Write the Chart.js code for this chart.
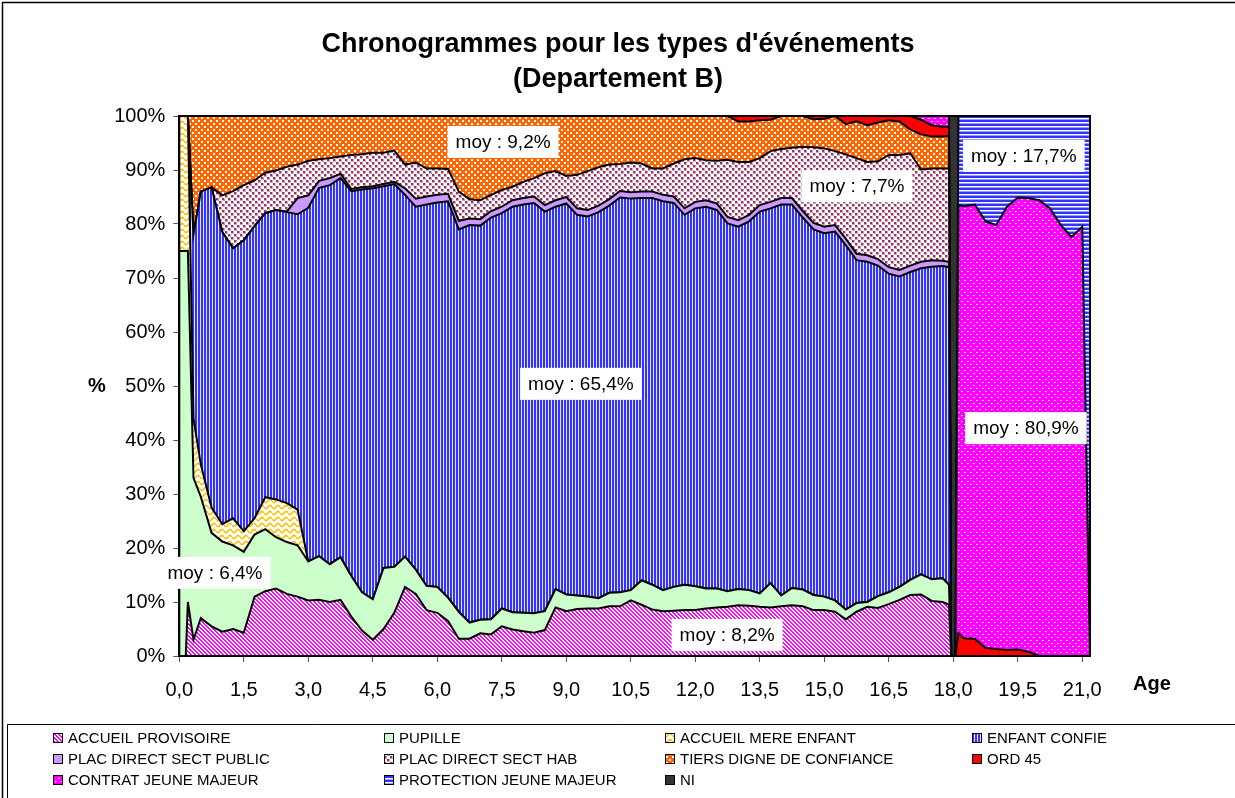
<!DOCTYPE html>
<html lang="fr">
<head>
<meta charset="UTF-8">
<title>Chronogrammes pour les types d'événements</title>
<script src="https://cdn.jsdelivr.net/npm/chart.js"></script>
<style>
  body { margin: 0; background: #fff; }
  #wrap { width: 1235px; height: 798px; }
</style>
</head>
<body>
<div id="wrap"><canvas id="chrono" width="1235" height="798"></canvas></div>
<script>
// age in years (x axis)
const ages = [
  0, 0.15, 0.2, 0.33, 0.5, 0.75,
  1, 1.25, 1.5, 1.75, 2, 2.25, 2.5, 2.75, 3, 3.25, 3.5, 3.75,
  4, 4.25, 4.5, 4.75, 5, 5.25, 5.5, 5.75, 6, 6.25, 6.5, 6.75,
  7, 7.25, 7.5, 7.75, 8, 8.25, 8.5, 8.75, 9, 9.25, 9.5, 9.75,
  10, 10.25, 10.5, 10.75, 11, 11.25, 11.5, 11.75, 12, 12.25, 12.5, 12.75,
  13, 13.25, 13.5, 13.75, 14, 14.25, 14.5, 14.75, 15, 15.25, 15.5, 15.75,
  16, 16.25, 16.5, 16.75, 17, 17.25, 17.5, 17.75, 17.9, 17.95, 18.05, 18.12,
  18.25, 18.5, 18.75, 19, 19.25, 19.5, 19.75, 20, 20.25, 20.5, 20.75, 21, 21.18
];

// share of each event type (%) at each age, bottom to top
const accueilProvisoire = [
  0, 0, 10, 3, 7, 5.5,
  4.5, 5, 4.3, 11, 12, 12.5, 11.5, 11, 10.3, 10.4, 10, 10.4,
  7.3, 4.7, 3.0, 5, 8, 12.8, 11.5, 8.5, 8.0, 6.5, 3.2, 3.2,
  4.2, 4.0, 5.5, 4.9, 4.6, 4.3, 4.8, 9, 8.3, 8.7, 8.8, 8.8,
  9.2, 9.2, 10.3, 9.5, 8.6, 8.3, 8.4, 8.5, 8.5, 8.8, 9.0, 9.1,
  9.4, 9.3, 9.1, 9.0, 9.2, 9.4, 9.2, 8.5, 8.5, 8.2, 6.8, 8.2,
  9.1, 8.9, 9.6, 10.4, 11.3, 11.4, 10.2, 10.0, 9.5, 0, 0, 0,
  0, 0, 0, 0, 0, 0, 0, 0, 0, 0, 0, 0, 0
];
const pupille = [
  75, 75, 65, 30, 22.5, 17.3,
  16.7, 15.5, 15, 11.5, 11.5, 9.5, 9.6, 9.5, 7.2, 8.1, 7, 7.9,
  7.5, 7.1, 7.5, 11.3, 8.5, 5.6, 4.5, 4.5, 4.8, 4.3, 5.0, 3.0,
  2.5, 2.8, 3.3, 3.2, 3.4, 3.6, 3.5, 3.4, 3.1, 2.5, 2.2, 1.9,
  2.5, 2.6, 1.9, 4.5, 4.6, 3.9, 4.4, 4.7, 4.4, 3.7, 3.5, 2.9,
  3.0, 2.9, 2.5, 4.5, 2.0, 3.2, 3.1, 2.8, 2.5, 2.1, 1.8, 1.6,
  0.9, 2.2, 2.2, 2.4, 2.8, 3.7, 4.0, 4.4, 3.7, 0, 0, 0,
  0, 0, 0, 0, 0, 0, 0, 0, 0, 0, 0, 0, 0
];
const accueilMereEnfant = [
  25, 25, 25, 11, 6, 4.7,
  3.2, 5, 3.8, 3, 5.9, 7, 7.2, 6.6, 0, 0, 0, 0,
  0, 0, 0, 0, 0, 0, 0, 0, 0, 0, 0, 0,
  0, 0, 0, 0, 0, 0, 0, 0, 0, 0, 0, 0,
  0, 0, 0, 0, 0, 0, 0, 0, 0, 0, 0, 0,
  0, 0, 0, 0, 0, 0, 0, 0, 0, 0, 0, 0,
  0, 0, 0, 0, 0, 0, 0, 0, 0, 0, 0, 0,
  0, 0, 0, 0, 0, 0, 0, 0, 0, 0, 0, 0, 0
];
const enfantConfie = [
  0, 0, 0, 34, 50.5, 59.3,
  54.1, 50, 53.9, 54.1, 52.6, 53.6, 53.9, 54.7, 65.5, 68.2, 70.2, 70.2,
  71.3, 74.6, 76.1, 70.7, 70.9, 67.0, 67.2, 70.6, 71.2, 73.4, 70.8, 73.6,
  73.0, 74.4, 73.2, 75.1, 75.6, 76.0, 74.0, 70.8, 72.4, 70.5, 70.4, 71.5,
  71.7, 73.1, 72.5, 70.8, 71.6, 72.0, 71.1, 68.5, 70.0, 70.7, 70.1, 68.1,
  67.1, 68.3, 70.7, 69.4, 72.4, 71.0, 68.9, 67.7, 67.3, 68.3, 67.5, 63.5,
  63.0, 61.2, 59.0, 57.5, 57.0, 56.7, 57.9, 57.8, 58.8, 0, 0, 0,
  0, 0, 0, 0, 0, 0, 0, 0, 0, 0, 0, 0, 0
];
const placDirectPublic = [
  0, 0, 0, 0, 0, 0,
  0, 0, 0, 0, 0, 0, 0.1, 3.0, 2.3, 1.3, 1.3, 0.8,
  0.4, 0.4, 0.4, 0.4, 0.4, 1.2, 1.5, 1.5, 1.4, 1.4, 1.6, 1.2,
  1.2, 1.2, 1.2, 1.2, 1.2, 1.2, 1.2, 1.2, 1.2, 1.2, 1.2, 1.2,
  1.2, 1.2, 1.2, 1.2, 1.2, 1.2, 1.2, 1.2, 1.2, 1.2, 1.2, 1.2,
  1.2, 1.2, 1.2, 1.2, 1.2, 1.2, 1.2, 1.2, 1.2, 1.2, 1.2, 1.2,
  1.2, 1.2, 1.2, 1.2, 1.2, 1.2, 1.2, 1.0, 1.0, 0, 0, 0,
  0, 0, 0, 0, 0, 0, 0, 0, 0, 0, 0, 0, 0
];
const placDirectHab = [
  0, 0, 0, 0, 0, 0,
  6.8, 10.6, 10.2, 8.5, 7.5, 7.3, 8.3, 6.2, 6.4, 4.0, 3.7, 3.2,
  6.3, 6.1, 6.2, 5.8, 5.8, 4.4, 6.7, 5.2, 4.9, 4.6, 5.4, 3.6,
  3.5, 3.0, 3.1, 2.5, 3.0, 3.4, 5.9, 5.4, 3.9, 6.2, 7.2, 7.1,
  6.4, 5.0, 5.5, 5.2, 4.3, 4.9, 6.1, 9.1, 8.1, 7.4, 7.9, 10.6,
  10.8, 9.8, 8.7, 9.4, 9.1, 9.3, 11.9, 14.0, 14.5, 13.7, 15.6, 17.7,
  17.3, 18.1, 20.8, 21.3, 20.8, 17.1, 17.0, 17.1, 17.3, 0, 0, 0,
  0, 0, 0, 0, 0, 0, 0, 0, 0, 0, 0, 0, 0
];
const tiersDigne = [
  0, 0, 0, 22, 14, 13.2,
  14.7, 13.9, 12.8, 11.9, 10.5, 10.1, 9.4, 9.0, 8.3, 8.0, 7.8, 7.5,
  7.2, 7.1, 6.8, 6.8, 6.4, 9.0, 8.6, 9.7, 9.7, 9.8, 14.0, 15.4,
  15.6, 14.6, 13.7, 13.1, 12.2, 11.5, 10.6, 10.2, 11.1, 10.9, 10.2, 9.5,
  9.0, 8.9, 8.6, 8.8, 9.7, 9.7, 8.8, 8.0, 7.8, 8.2, 8.3, 8.1,
  7.5, 7.5, 7.0, 5.8, 6.1, 5.9, 5.7, 5.2, 5.5, 6.5, 5.6, 6.8,
  6.8, 7.2, 6.4, 6.2, 4.4, 6.5, 5.9, 5.9, 6.0, 0, 0, 0,
  0, 0, 0, 0, 0, 0, 0, 0, 0, 0, 0, 0, 0
];
const ord45 = [
  0, 0, 0, 0, 0, 0,
  0, 0, 0, 0, 0, 0, 0, 0, 0, 0, 0, 0,
  0, 0, 0, 0, 0, 0, 0, 0, 0, 0, 0, 0,
  0, 0, 0, 0, 0, 0, 0, 0, 0, 0, 0, 0,
  0, 0, 0, 0, 0, 0, 0, 0, 0, 0, 0, 0,
  1.0, 1.0, 0.8, 0.7, 0, 0, 0, 0.6, 0.5, 0, 1.5, 1.0,
  1.7, 1.2, 0.8, 1.0, 2.5, 2.7, 2.1, 1.8, 1.7, 0, 0, 4.2,
  3.3, 3.2, 1.5, 1.3, 1.1, 1.2, 0.8, 0, 0, 0, 0, 0, 0
];
const contratJeuneMajeur = [
  0, 0, 0, 0, 0, 0,
  0, 0, 0, 0, 0, 0, 0, 0, 0, 0, 0, 0,
  0, 0, 0, 0, 0, 0, 0, 0, 0, 0, 0, 0,
  0, 0, 0, 0, 0, 0, 0, 0, 0, 0, 0, 0,
  0, 0, 0, 0, 0, 0, 0, 0, 0, 0, 0, 0,
  0, 0, 0, 0, 0, 0, 0, 0, 0, 0, 0, 0,
  0, 0, 0, 0, 0, 0.7, 1.7, 2.0, 2.0, 0, 0, 79.3,
  80.0, 80.4, 79.0, 78.5, 82.1, 83.7, 84.0, 84.4, 82.9, 79.8, 77.6, 79.5, 0
];
const protectionJeuneMajeur = [
  0, 0, 0, 0, 0, 0,
  0, 0, 0, 0, 0, 0, 0, 0, 0, 0, 0, 0,
  0, 0, 0, 0, 0, 0, 0, 0, 0, 0, 0, 0,
  0, 0, 0, 0, 0, 0, 0, 0, 0, 0, 0, 0,
  0, 0, 0, 0, 0, 0, 0, 0, 0, 0, 0, 0,
  0, 0, 0, 0, 0, 0, 0, 0, 0, 0, 0, 0,
  0, 0, 0, 0, 0, 0, 0, 0, 0, 0, 0, 16.5,
  16.7, 16.4, 19.5, 20.2, 16.8, 15.1, 15.2, 15.6, 17.1, 20.2, 22.4, 20.5, 100
];
const nonInforme = [
  0, 0, 0, 0, 0, 0,
  0, 0, 0, 0, 0, 0, 0, 0, 0, 0, 0, 0,
  0, 0, 0, 0, 0, 0, 0, 0, 0, 0, 0, 0,
  0, 0, 0, 0, 0, 0, 0, 0, 0, 0, 0, 0,
  0, 0, 0, 0, 0, 0, 0, 0, 0, 0, 0, 0,
  0, 0, 0, 0, 0, 0, 0, 0, 0, 0, 0, 0,
  0, 0, 0, 0, 0, 0, 0, 0, 0, 100, 100, 0,
  0, 0, 0, 0, 0, 0, 0, 0, 0, 0, 0, 0, 0
];

const seriesNames = [
  'ACCUEIL PROVISOIRE', 'PUPILLE', 'ACCUEIL MERE ENFANT', 'ENFANT CONFIE',
  'PLAC DIRECT SECT PUBLIC', 'PLAC DIRECT SECT HAB', 'TIERS DIGNE DE CONFIANCE', 'ORD 45',
  'CONTRAT JEUNE MAJEUR', 'PROTECTION JEUNE MAJEUR', 'NI'
];
const seriesValues = [
  accueilProvisoire, pupille, accueilMereEnfant, enfantConfie,
  placDirectPublic, placDirectHab, tiersDigne, ord45,
  contratJeuneMajeur, protectionJeuneMajeur, nonInforme
];

// mean share written in the boxes: [age, %, text]
const meanLabels = [
  [7.53, 95.2, 'moy : 9,2%'],
  [15.76, 87.0, 'moy : 7,7%'],
  [9.34, 50.4, 'moy : 65,4%'],
  [19.64, 92.6, 'moy : 17,7%'],
  [19.69, 42.2, 'moy : 80,9%'],
  [0.83, 15.4, 'moy : 6,4%'],
  [12.74, 3.9, 'moy : 8,2%']
];

const FONT = '"Liberation Sans", Arial, sans-serif';

// small repeating tiles for the hatched fills
function tile(w, h, paint) {
  const c = document.createElement('canvas');
  c.width = w; c.height = h;
  const g = c.getContext('2d');
  paint(g, w, h);
  return g.createPattern(c, 'repeat');
}
function px(g, x, y, col) { g.fillStyle = col; g.fillRect(x, y, 1, 1); }

const fills = [
  // diagonal magenta hatch
  tile(4, 4, (g) => {
    g.fillStyle = '#fff'; g.fillRect(0, 0, 4, 4);
    for (let y = 0; y < 4; y++) for (let x = 0; x < 4; x++)
      if ((x - y + 8) % 4 < 2) px(g, x, y, '#FF00FF');
  }),
  '#CCFFCC',
  // yellow waves
  tile(8, 6, (g) => {
    g.fillStyle = '#fff'; g.fillRect(0, 0, 8, 6);
    g.strokeStyle = '#FFC000'; g.lineWidth = 1.6;
    g.beginPath();
    for (let x = 0; x <= 8; x += 0.5) {
      const y = 3 + 1.6 * Math.sin(x / 8 * Math.PI * 2);
      x === 0 ? g.moveTo(x, y) : g.lineTo(x, y);
    }
    g.stroke();
  }),
  // blue vertical stripes
  tile(3, 1, (g) => {
    g.fillStyle = '#3333FF'; g.fillRect(0, 0, 2, 1);
    g.fillStyle = '#E6E6FF'; g.fillRect(2, 0, 1, 1);
  }),
  '#CC99FF',
  // white with maroon squares
  tile(6, 6, (g) => {
    g.fillStyle = '#fff'; g.fillRect(0, 0, 6, 6);
    g.fillStyle = '#D2A5BC';
    g.fillRect(0, 0, 3, 3); g.fillRect(3, 3, 3, 3);
    g.fillStyle = '#993366';
    g.fillRect(0, 0, 2, 2); g.fillRect(3, 3, 2, 2);
  }),
  // orange with white checks
  tile(6, 6, (g) => {
    g.fillStyle = '#FF6600'; g.fillRect(0, 0, 6, 6);
    g.fillStyle = '#fff';
    g.fillRect(0, 0, 2, 2); g.fillRect(3, 3, 2, 2);
  }),
  '#FF0000',
  // magenta with white dots
  tile(6, 6, (g) => {
    g.fillStyle = '#FF00FF'; g.fillRect(0, 0, 6, 6);
    px(g, 1, 1, '#fff'); px(g, 4, 4, '#fff');
    px(g, 2, 1, '#FF99FF'); px(g, 5, 4, '#FF99FF');
  }),
  // blue horizontal stripes
  tile(1, 4, (g) => {
    g.fillStyle = '#3333FF'; g.fillRect(0, 0, 1, 2);
    g.fillStyle = '#fff'; g.fillRect(0, 2, 1, 1);
    g.fillStyle = '#9999FF'; g.fillRect(0, 3, 1, 1);
  }),
  '#333333'
];

const datasets = seriesValues.map((vals, i) => ({
  label: seriesNames[i],
  data: vals,
  backgroundColor: fills[i],
  borderColor: '#000',
  borderWidth: 2,
  pointRadius: 0,
  tension: 0,
  fill: i === 0 ? 'origin' : '-1'
}));

const decor = {
  id: 'decor',
  beforeDraw(chart) {
    const ctx = chart.ctx;
    ctx.save();
    ctx.fillStyle = '#fff';
    ctx.fillRect(0, 0, chart.width, chart.height);
    ctx.restore();
  },
  afterDraw(chart) {
    const ctx = chart.ctx;
    const area = chart.chartArea;
    const xs = chart.scales.x, ys = chart.scales.y;
    ctx.save();

    // plot frame
    ctx.strokeStyle = '#000';
    ctx.lineWidth = 2;
    ctx.strokeRect(area.left, area.top, area.right - area.left, area.bottom - area.top);

    // mean boxes
    ctx.font = '19px ' + FONT;
    ctx.textAlign = 'center';
    ctx.textBaseline = 'middle';
    meanLabels.forEach(([age, pct, text]) => {
      const cx = xs.getPixelForValue(age);
      const cy = ys.getPixelForValue(pct);
      const w = ctx.measureText(text).width + 16;
      ctx.fillStyle = '#fff';
      ctx.fillRect(cx - w / 2, cy - 16, w, 32);
      ctx.fillStyle = '#000';
      ctx.fillText(text, cx, cy + 1);
    });

    // title
    ctx.font = 'bold 27px ' + FONT;
    ctx.fillText('Chronogrammes pour les types d\'événements', 618, 45);
    ctx.fillText('(Departement B)', 618, 80);

    // axis titles
    ctx.font = 'bold 20px ' + FONT;
    ctx.fillText('%', 97, 386);
    ctx.fillText('Age', 1152, 684);

    // outer frame (top and left edges) and legend box
    ctx.lineWidth = 1.5;
    ctx.beginPath();
    ctx.moveTo(2.5, 798); ctx.lineTo(2.5, 2.5); ctx.lineTo(1235, 2.5);
    ctx.stroke();
    ctx.lineWidth = 1;
    ctx.beginPath();
    ctx.moveTo(7.5, 798); ctx.lineTo(7.5, 724.5); ctx.lineTo(1235, 724.5);
    ctx.stroke();

    // legend, four columns
    const colX = [53, 384, 665, 972];
    const rowY = [738, 759, 780];
    ctx.font = '15px ' + FONT;
    ctx.textAlign = 'left';
    seriesNames.forEach((name, i) => {
      const x = colX[i % 4], y = rowY[Math.floor(i / 4)];
      ctx.fillStyle = fills[i];
      ctx.fillRect(x, y - 5, 10, 10);
      ctx.strokeStyle = '#000';
      ctx.lineWidth = 1;
      ctx.strokeRect(x + 0.5, y - 4.5, 9, 9);
      ctx.fillStyle = '#000';
      ctx.fillText(name, x + 15, y + 1);
    });
    ctx.restore();
  }
};

const tickFont = { family: FONT, size: 20 };

new Chart(document.getElementById('chrono'), {
  type: 'line',
  data: { labels: ages, datasets },
  options: {
    responsive: false,
    animation: false,
    layout: { padding: { top: 116, right: 145, bottom: 92, left: 0 } },
    plugins: {
      legend: { display: false },
      title: { display: false },
      tooltip: { enabled: false }
    },
    scales: {
      x: {
        type: 'linear',
        min: 0,
        max: 21.18,
        afterFit: (s) => { s.height = 50; },
        ticks: {
          stepSize: 1.5,
          includeBounds: false,
          autoSkip: false,
          maxRotation: 0,
          padding: 16,
          color: '#000',
          font: tickFont,
          callback: (v) => v.toFixed(1).replace('.', ',')
        },
        grid: { drawOnChartArea: false, drawTicks: true, tickLength: 6, color: '#555' },
        border: { color: '#000', width: 2 }
      },
      y: {
        stacked: true,
        min: 0,
        max: 100,
        afterFit: (s) => { s.width = 179.3; },
        ticks: {
          stepSize: 10,
          padding: 8,
          color: '#000',
          font: tickFont,
          callback: (v) => v + '%'
        },
        grid: { drawOnChartArea: false, drawTicks: true, tickLength: 6, color: '#555' },
        border: { color: '#000', width: 2 }
      }
    }
  },
  plugins: [decor]
});
</script>
</body>
</html>
